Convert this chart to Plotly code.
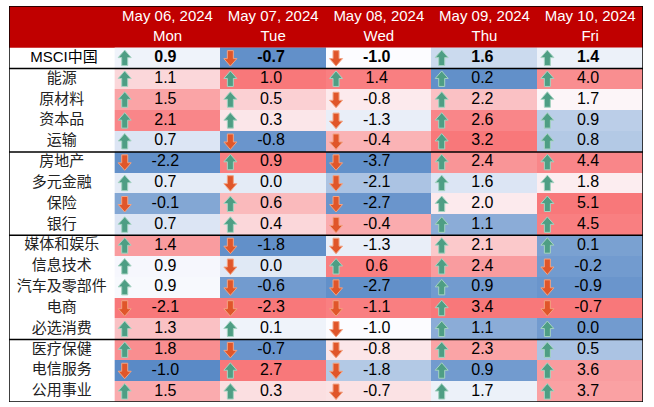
import plotly.graph_objects as go

dates = ["May 06, 2024", "May 07, 2024", "May 08, 2024", "May 09, 2024", "May 10, 2024"]
weekdays = ["Mon", "Tue", "Wed", "Thu", "Fri"]
sectors = ["MSCI中国", "能源", "原材料", "资本品", "运输", "房地产", "多元金融", "保险", "银行",
           "媒体和娱乐", "信息技术", "汽车及零部件", "电商", "必选消费", "医疗保健", "电信服务", "公用事业"]

mon = [0.9, 1.1, 1.5, 2.1, 0.7, -2.2, 0.7, -0.1, 0.7, 1.4, 0.9, 0.9, -2.1, 1.3, 1.8, -1.0, 1.5]
tue = [-0.7, 1.0, 0.5, 0.3, -0.8, 0.9, 0.0, 0.6, 0.4, -1.8, 0.0, -0.6, -2.3, 0.1, -0.7, 2.7, 0.3]
wed = [-1.0, 1.4, -0.8, -1.3, -0.4, -3.7, -2.1, -2.7, -0.4, -1.3, 0.6, -2.7, -1.1, -1.0, -0.8, -1.8, -0.7]
thu = [1.6, 0.2, 2.2, 2.6, 3.2, 2.4, 1.6, 2.0, 1.1, 2.1, 2.4, 0.9, 3.4, 1.1, 2.3, 0.9, 1.7]
fri = [1.4, 4.0, 1.7, 0.9, 0.8, 4.4, 1.8, 5.1, 4.5, 0.1, -0.2, -0.9, -0.7, 0.0, 0.5, 3.6, 3.7]

# arrow direction shown in each cell (1 = up, -1 = down)
mon_dir = [1, 1, 1, 1, 1, -1, 1, -1, 1, 1, 1, 1, -1, 1, 1, -1, 1]
tue_dir = [-1, 1, 1, 1, -1, 1, -1, 1, 1, -1, -1, -1, -1, 1, -1, 1, 1]
wed_dir = [-1, 1, -1, -1, -1, -1, -1, -1, -1, -1, 1, -1, -1, -1, -1, -1, -1]
thu_dir = [1] * 17
fri_dir = [1, 1, 1, 1, 1, 1, 1, 1, 1, 1, -1, -1, -1, 1, 1, 1, 1]

# heat level read from the cell shading (-1 blue ... 0 white ... 1 red)
mon_heat = [-0.08, 0.25, 0.6, 0.8, -0.2, -0.95, -0.15, -0.75, -0.2, 0.65, -0.04, -0.03, 0.9, 0.4, 0.75, -1.0, 0.55]
tue_heat = [-0.95, 0.9, 0.3, 0.15, -0.9, 0.85, -0.15, 0.45, 0.25, -0.95, -0.17, -0.85, 0.9, -0.08, -0.9, 0.9, 0.2]
wed_heat = [0.0, 0.85, 0.12, -0.12, 0.5, -0.95, -0.5, -0.9, 0.55, -0.12, 0.85, -0.95, 0.85, 0.0, 0.15, -0.45, 0.18]
thu_heat = [-0.3, -0.95, 0.4, 0.8, 0.9, 0.7, -0.2, 0.12, -0.7, 0.35, 0.65, -0.85, 0.9, -0.7, 0.6, -0.85, -0.1]
fri_heat = [-0.1, 0.75, 0.05, -0.4, -0.45, 0.8, 0.1, 0.9, 0.85, -0.8, -0.85, -0.9, 0.9, -0.85, -0.5, 0.65, 0.62]

cols = [mon, tue, wed, thu, fri]
dirs = [mon_dir, tue_dir, wed_dir, thu_dir, fri_dir]
heats = [mon_heat, tue_heat, wed_heat, thu_heat, fri_heat]

n = len(sectors)
row_y = [i + 2 for i in range(n)]
col_x = [j + 1 for j in range(len(dates))]

z = [[heats[j][i] for j in range(len(dates))] for i in range(n)]

W, H = 654, 407
ML, MR, MT, MB = 9, 11, 6, 5
XPX = (W - ML - MR) / 6.0     # pixels per x unit
YPX = (H - MT - MB) / 19.0    # pixels per y unit

fig = go.Figure()
fig.add_trace(go.Heatmap(
    z=z, x=col_x, y=row_y,
    colorscale=[[0, "#5A8AC6"], [0.5, "#FCFCFF"], [1, "#F8696B"]],
    zmin=-1, zmax=1, showscale=False, hoverinfo="skip",
))

# header band
fig.add_shape(type="rect", x0=-0.5, x1=5.5, y0=-0.5, y1=1.5, fillcolor="#C00000",
              line=dict(width=0), layer="below")

hdr_font = dict(family="Liberation Sans, Arial", size=15, color="white")
fig.add_trace(go.Scatter(x=col_x, y=[0.05] * len(dates), text=dates, mode="text",
                         textfont=hdr_font, hoverinfo="skip"))
fig.add_trace(go.Scatter(x=col_x, y=[1.0] * len(dates), text=weekdays, mode="text",
                         textfont=hdr_font, hoverinfo="skip"))

# sector labels
fig.add_trace(go.Scatter(x=[0.02], y=[row_y[0]], text=[sectors[0]], mode="text",
                         textfont=dict(family="Liberation Sans, Noto Sans CJK SC", size=15, color="black"),
                         hoverinfo="skip"))
fig.add_trace(go.Scatter(x=[0.0] * (n - 1), y=row_y[1:], text=sectors[1:], mode="text",
                         textfont=dict(family="Noto Sans CJK SC", size=15, color="#222222"),
                         hoverinfo="skip"))

# values
for j in range(len(dates)):
    txt = ["<b>%.1f</b>" % cols[j][0]] + ["%.1f" % v for v in cols[j][1:]]
    fig.add_trace(go.Scatter(x=[col_x[j] - 0.02] * n, y=row_y, text=txt, mode="text",
                             textfont=dict(family="Liberation Sans, Arial", size=16, color="black"),
                             hoverinfo="skip"))

# block arrows as path shapes
GREEN, GREEN_L = "#4E9E84", "#A6D3C2"
RED, RED_L = "#E0562A", "#F2A383"
outline_up = [(0, -8), (6.5, -0.5), (3, -0.5), (3, 7.5), (-3, 7.5), (-3, -0.5), (-6.5, -0.5)]
for j in range(len(dates)):
    for i in range(n):
        d = dirs[j][i]
        cx = col_x[j] - 0.405
        cy = row_y[i]
        pts = [(cx + px / XPX, cy + d * py / YPX) for px, py in outline_up]
        path = "M " + " L ".join("%.4f,%.4f" % p for p in pts) + " Z"
        fig.add_shape(type="path", path=path,
                      fillcolor=GREEN if d > 0 else RED,
                      line=dict(color=GREEN_L if d > 0 else RED_L, width=1))

# separator lines
for yb in [-0.5, 2.5, 6.5, 10.5, 15.5, 18.5]:
    fig.add_shape(type="line", x0=-0.5, x1=5.5, y0=yb, y1=yb, line=dict(color="black", width=1.5))
for xb in [-0.5, 5.5]:
    fig.add_shape(type="line", x0=xb, x1=xb, y0=-0.5, y1=18.5, line=dict(color="black", width=1.5))

fig.update_layout(
    width=W, height=H,
    margin=dict(l=ML, r=MR, t=MT, b=MB),
    paper_bgcolor="white", plot_bgcolor="white",
    showlegend=False,
    xaxis=dict(range=[-0.5, 5.5], visible=False, fixedrange=True),
    yaxis=dict(range=[18.5, -0.5], visible=False, fixedrange=True),
)

fig.write_html("out.html", config={"displayModeBar": False},
               post_script="document.body.style.margin='0';")
